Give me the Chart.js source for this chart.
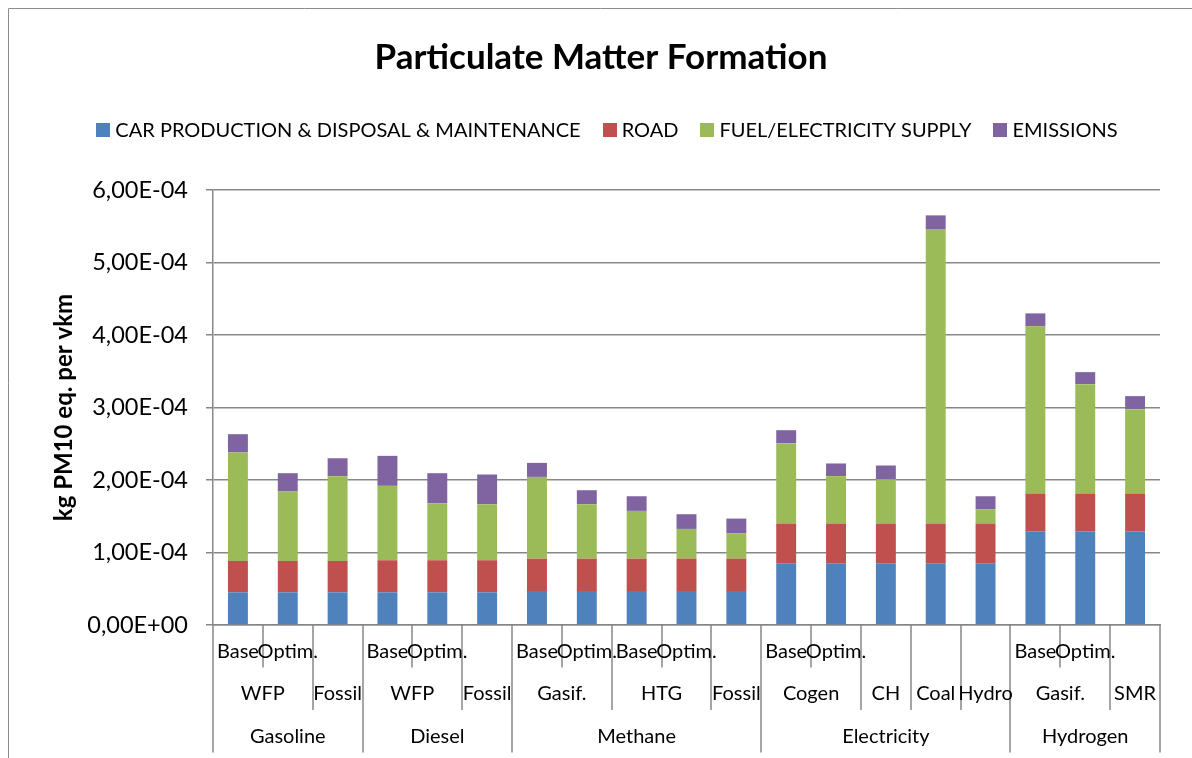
<!DOCTYPE html>
<html>
<head>
<meta charset="utf-8">
<title>Particulate Matter Formation</title>
<script src="https://cdn.jsdelivr.net/npm/chart.js@4.4.1/dist/chart.umd.min.js"></script>
<style>
  html, body { margin: 0; padding: 0; background: #ffffff; }
  #wrap { width: 1192px; height: 758px; }
</style>
</head>
<body>
<div id="wrap"><canvas id="pm" width="1192" height="758"></canvas></div>
<script>
// Category hierarchy (one entry per bar): variant / pathway / fuel
const variantLabels = ['Base', 'Optim.', '', 'Base', 'Optim.', '', 'Base', 'Optim.', 'Base', 'Optim.', '',
                       'Base', 'Optim.', '', '', '', 'Base', 'Optim.', ''];
const pathwayLabels = ['WFP', 'WFP', 'Fossil', 'WFP', 'WFP', 'Fossil', 'Gasif.', 'Gasif.', 'HTG', 'HTG', 'Fossil',
                       'Cogen', 'Cogen', 'CH', 'Coal', 'Hydro', 'Gasif.', 'Gasif.', 'SMR'];
const fuelLabels = ['Gasoline', 'Gasoline', 'Gasoline', 'Diesel', 'Diesel', 'Diesel',
                    'Methane', 'Methane', 'Methane', 'Methane', 'Methane',
                    'Electricity', 'Electricity', 'Electricity', 'Electricity', 'Electricity',
                    'Hydrogen', 'Hydrogen', 'Hydrogen'];

// Series names
const seriesNames = ['CAR PRODUCTION & DISPOSAL & MAINTENANCE', 'ROAD', 'FUEL/ELECTRICITY SUPPLY', 'EMISSIONS'];

// kg PM10 eq. per vkm
const carProduction = [0.451e-4, 0.451e-4, 0.451e-4, 0.451e-4, 0.451e-4, 0.451e-4,
                       0.469e-4, 0.469e-4, 0.469e-4, 0.469e-4, 0.469e-4,
                       0.847e-4, 0.847e-4, 0.847e-4, 0.847e-4, 0.847e-4,
                       1.289e-4, 1.289e-4, 1.289e-4];
const road = [0.432e-4, 0.432e-4, 0.432e-4, 0.442e-4, 0.442e-4, 0.442e-4,
              0.447e-4, 0.447e-4, 0.447e-4, 0.447e-4, 0.447e-4,
              0.553e-4, 0.553e-4, 0.553e-4, 0.553e-4, 0.553e-4,
              0.519e-4, 0.519e-4, 0.519e-4];
const fuelSupply = [1.497e-4, 0.958e-4, 1.169e-4, 1.026e-4, 0.787e-4, 0.773e-4,
                    1.127e-4, 0.750e-4, 0.658e-4, 0.409e-4, 0.350e-4,
                    1.108e-4, 0.652e-4, 0.611e-4, 4.062e-4, 0.197e-4,
                    2.311e-4, 1.514e-4, 1.169e-4];
const emissions = [0.252e-4, 0.253e-4, 0.248e-4, 0.414e-4, 0.414e-4, 0.410e-4,
                   0.193e-4, 0.193e-4, 0.202e-4, 0.203e-4, 0.202e-4,
                   0.179e-4, 0.176e-4, 0.189e-4, 0.188e-4, 0.179e-4,
                   0.179e-4, 0.166e-4, 0.180e-4];

// Value axis ticks
const yTicks = [0, 1e-4, 2e-4, 3e-4, 4e-4, 5e-4, 6e-4];

const seriesColors = ['#4F81BD', '#C0504D', '#9BBB59', '#8064A2'];
const lineGrey = '#878787';
const FONT = 'Lato, "Open Sans", sans-serif';

// "6,00E-04" style (decimal comma, two-digit exponent)
function sciComma(v) {
  const [m, e] = Number(v).toExponential(2).split('e');
  const sign = e[0] === '-' ? '-' : '+';
  const digits = e.replace(/[+-]/, '').padStart(2, '0');
  return m.replace('.', ',') + 'E' + sign + digits;
}

// Frame, legend and the three-row category axis
const decorations = {
  id: 'decorations',
  beforeDraw(chart) {
    const { ctx, width, height } = chart;
    ctx.save();
    ctx.fillStyle = '#ffffff';
    ctx.fillRect(0, 0, width, height);
    ctx.strokeStyle = '#8c8c8c';
    ctx.lineWidth = 1;
    ctx.beginPath();
    ctx.moveTo(8.5, height);
    ctx.lineTo(8.5, 8.5);
    ctx.lineTo(width, 8.5);
    ctx.stroke();
    ctx.restore();
  },
  afterDraw(chart) {
    const { ctx, chartArea, scales } = chart;
    const x = scales.x;
    const n = chart.data.labels.length;

    // legend
    ctx.save();
    ctx.font = '20px ' + FONT;
    ctx.textBaseline = 'middle';
    ctx.textAlign = 'left';
    const box = 14, gapText = 5, gapItem = 22;
    const items = chart.data.datasets.map(ds => ({ text: ds.label, color: ds.backgroundColor, w: ctx.measureText(ds.label).width }));
    const total = items.reduce((s, it, i) => s + box + gapText + it.w + (i ? gapItem : 0), 0);
    let lx = 607 - total / 2;
    const ly = 130;
    items.forEach(it => {
      ctx.fillStyle = it.color;
      ctx.fillRect(Math.round(lx), ly - 7, box, box);
      ctx.fillStyle = '#000000';
      ctx.fillText(it.text, lx + box + gapText, ly + 1);
      lx += box + gapText + it.w + gapItem;
    });
    ctx.restore();

    // category hierarchy
    const rowH = 42.5;
    const top = chartArea.bottom;
    const boundary = i => i === 0 ? chartArea.left : (i === n ? chartArea.right
      : (x.getPixelForValue(i - 1) + x.getPixelForValue(i)) / 2);

    ctx.save();
    ctx.strokeStyle = lineGrey;
    ctx.lineWidth = 1.5;
    for (let i = 0; i <= n; i++) {
      let depth = 1;
      if (i === 0 || i === n || fuelLabels[i] !== fuelLabels[i - 1]) depth = 3;
      else if (pathwayLabels[i] !== pathwayLabels[i - 1]) depth = 2;
      const bx = Math.round(boundary(i));
      ctx.beginPath();
      ctx.moveTo(bx, top);
      ctx.lineTo(bx, top + depth * rowH);
      ctx.stroke();
    }

    ctx.fillStyle = '#000000';
    ctx.font = '20px ' + FONT;
    ctx.textAlign = 'center';
    ctx.textBaseline = 'middle';
    const rows = [variantLabels, pathwayLabels, fuelLabels];
    rows.forEach((row, r) => {
      let start = 0;
      for (let i = 1; i <= n; i++) {
        const parentChange = i < n && ((r < 1 && pathwayLabels[i] !== pathwayLabels[i - 1]) ||
                                       (r < 2 && fuelLabels[i] !== fuelLabels[i - 1]));
        const split = i === n || row[i] !== row[start] || parentChange || r === 0;
        if (split) {
          if (row[start]) {
            const cx = (boundary(start) + boundary(i)) / 2;
            ctx.fillText(row[start], cx, top + r * rowH + rowH / 2 + 5);
          }
          start = i;
        }
      }
    });
    ctx.restore();
  }
};

new Chart(document.getElementById('pm'), {
  type: 'bar',
  data: {
    labels: pathwayLabels.map((p, i) => [variantLabels[i], p, fuelLabels[i]].filter(Boolean).join(' / ')),
    datasets: [
      { label: seriesNames[0], data: carProduction, backgroundColor: seriesColors[0] },
      { label: seriesNames[1], data: road, backgroundColor: seriesColors[1] },
      { label: seriesNames[2], data: fuelSupply, backgroundColor: seriesColors[2] },
      { label: seriesNames[3], data: emissions, backgroundColor: seriesColors[3] }
    ]
  },
  options: {
    responsive: false,
    animation: false,
    devicePixelRatio: 1,
    layout: { padding: { left: 42, right: 32, top: 0, bottom: 0 } },
    datasets: { bar: { barPercentage: 0.4, categoryPercentage: 1, borderWidth: 0 } },
    plugins: {
      legend: { display: false },
      tooltip: { enabled: false },
      title: {
        display: true,
        text: 'Particulate Matter Formation',
        color: '#000000',
        font: { family: FONT, size: 35, weight: 'bold', lineHeight: 1.2 },
        padding: { top: 37, bottom: 111 }
      }
    },
    scales: {
      x: {
        stacked: true,
        grid: { display: false },
        border: { display: true, color: lineGrey, width: 1.5 },
        ticks: { display: false },
        afterFit(scale) { scale.height = 133; }
      },
      y: {
        stacked: true,
        min: yTicks[0],
        max: yTicks[yTicks.length - 1],
        afterBuildTicks(scale) { scale.ticks = yTicks.map(v => ({ value: v })); },
        grid: { color: lineGrey, lineWidth: 1.5, tickLength: 7, drawTicks: true },
        border: { display: true, color: lineGrey, width: 1.5 },
        ticks: {
          color: '#000000',
          padding: 18,
          font: { family: FONT, size: 23.5 },
          callback: v => sciComma(v)
        },
        title: {
          display: true,
          text: 'kg PM10 eq. per vkm',
          color: '#000000',
          font: { family: FONT, size: 24, weight: 'bold', lineHeight: 1.2 },
          padding: { top: 8, bottom: 0 }
        },
        afterFit(scale) { scale.width = 171; }
      }
    }
  },
  plugins: [decorations]
});
</script>
</body>
</html>
